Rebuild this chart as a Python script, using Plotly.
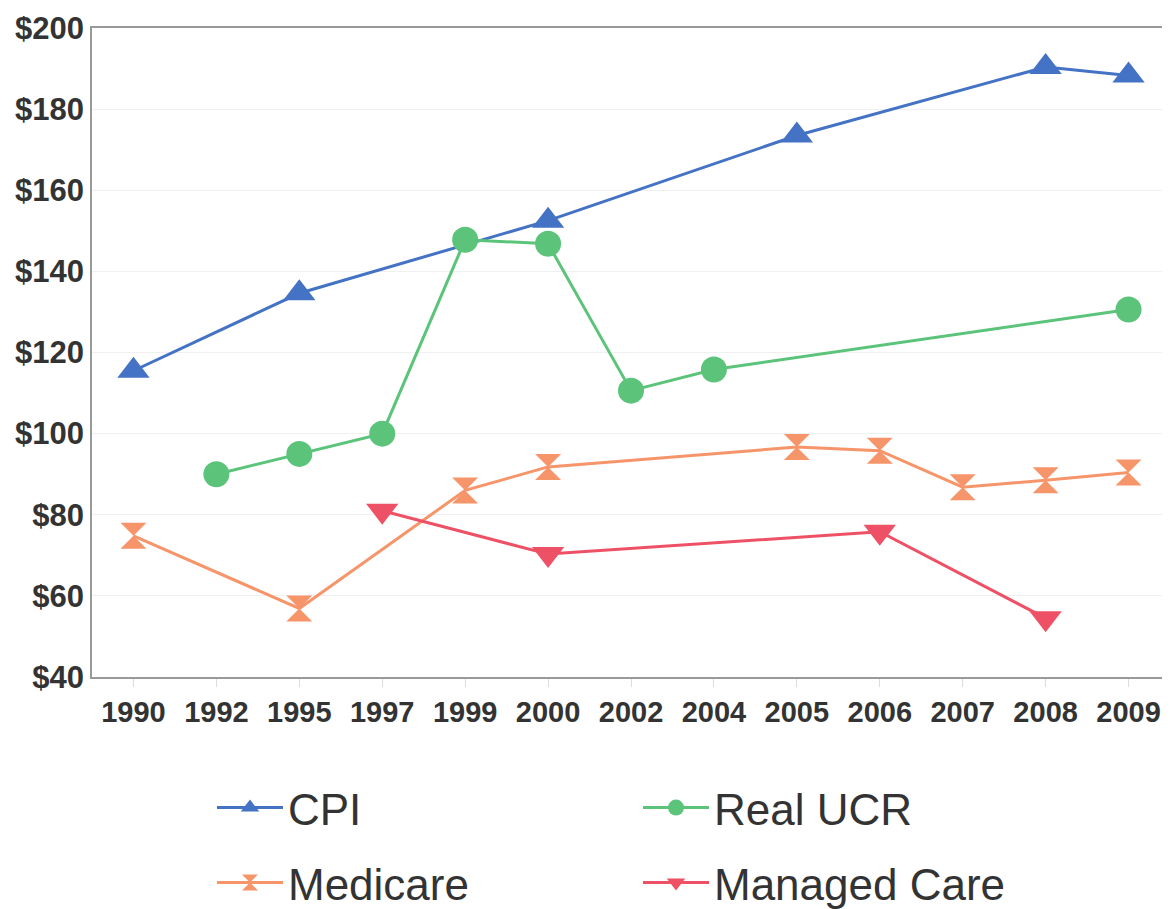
import plotly.graph_objects as go

years = ["1990", "1992", "1995", "1997", "1999", "2000", "2002", "2004", "2005", "2006", "2007", "2008", "2009"]

cpi_x = ["1990", "1995", "2000", "2005", "2008", "2009"]
cpi_y = [115.5, 134.6, 152.5, 173.5, 190.4, 188.3]

ucr_x = ["1992", "1995", "1997", "1999", "2000", "2002", "2004", "2009"]
ucr_y = [90.0, 95.0, 100.0, 147.8, 146.8, 110.6, 115.8, 130.6]

med_x = ["1990", "1995", "1999", "2000", "2005", "2006", "2007", "2008", "2009"]
med_y = [74.8, 56.9, 86.0, 91.8, 96.7, 95.8, 86.8, 88.5, 90.4]

mc_x = ["1997", "2000", "2006", "2008"]
mc_y = [81.0, 70.3, 75.8, 54.5]

# page body has an 8px default margin; size the figure to fill the rest
W, H = 1162, 901

fig = go.Figure()
fig.add_trace(go.Scatter(x=cpi_x, y=cpi_y, name="CPI", mode="lines+markers", legend="legend",
                         line=dict(color="#4472C4", width=3),
                         marker=dict(symbol="triangle-up", size=28, color="#4472C4")))
fig.add_trace(go.Scatter(x=ucr_x, y=ucr_y, name="Real UCR", mode="lines+markers", legend="legend",
                         line=dict(color="#5BC47A", width=3),
                         marker=dict(symbol="circle", size=26, color="#5BC47A")))
fig.add_trace(go.Scatter(x=med_x, y=med_y, name="Medicare", mode="lines+markers", legend="legend2",
                         line=dict(color="#F7956A", width=3),
                         marker=dict(symbol="hourglass", size=26, color="#F7956A")))
fig.add_trace(go.Scatter(x=mc_x, y=mc_y, name="Managed Care", mode="lines+markers", legend="legend2",
                         line=dict(color="#EE5166", width=3),
                         marker=dict(symbol="triangle-down", size=28, color="#EE5166")))

legend_common = dict(orientation="h", xref="container", yref="container",
                     x=204 / W, xanchor="left", yanchor="middle",
                     entrywidth=345, entrywidthmode="pixels",
                     font=dict(size=44, color="#333333"), itemwidth=66,
                     itemsizing="trace", bgcolor="rgba(0,0,0,0)")

fig.update_layout(
    width=W, height=H,
    margin=dict(l=84, r=0, t=20, b=232, autoexpand=False),
    paper_bgcolor="white", plot_bgcolor="white",
    font=dict(family="Liberation Sans, Arial, sans-serif", color="#333333"),
    showlegend=True,
    legend=dict(legend_common, y=1 - 800 / H),
    legend2=dict(legend_common, y=1 - 875 / H),
    xaxis=dict(type="category", categoryorder="array", categoryarray=years,
               range=[-0.5, 12.5], showgrid=False, automargin=False,
               showline=True, linecolor="#999999", linewidth=1.5, mirror=True,
               ticks="outside", ticklen=8, tickcolor="#dddddd",
               ticklabeloverflow="allow",
               tickfont=dict(size=29, family="Liberation Sans, Arial, sans-serif", color="#333333"),
               ),
    yaxis=dict(range=[40, 200], dtick=20, tickprefix="$", automargin=False,
               showgrid=True, gridcolor="#f0f0f0", gridwidth=1,
               showline=True, linecolor="#999999", linewidth=1.5, mirror=True,
               ticks="", zeroline=False, ticklabeloverflow="allow",
               tickfont=dict(size=31, family="Liberation Sans, Arial, sans-serif", color="#333333")),
)
fig.update_xaxes(tickfont_weight="bold")
fig.update_yaxes(tickfont_weight="bold")

fig.write_html("out.html")
